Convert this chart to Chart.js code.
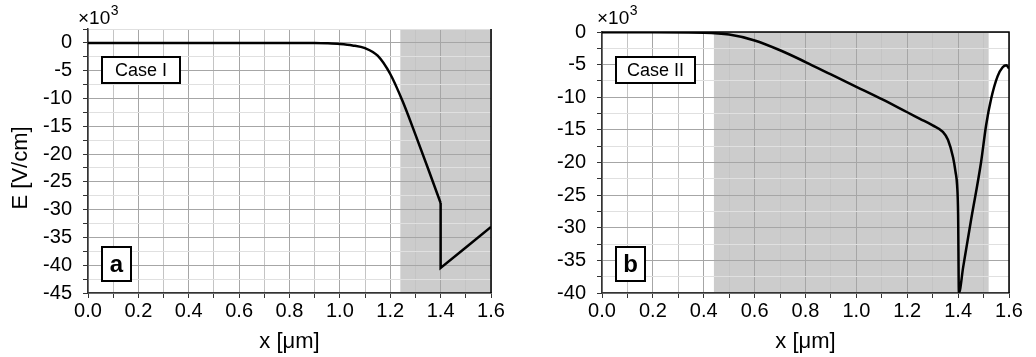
<!DOCTYPE html>
<html><head><meta charset="utf-8">
<script src="https://cdn.jsdelivr.net/npm/chart.js@4/dist/chart.umd.min.js"></script>
<style>html,body{margin:0;padding:0;background:#fff;}#wrap{position:relative;width:1036px;height:357px;overflow:hidden}canvas{position:absolute;top:0}</style>
</head><body><div id="wrap"><canvas id="ca" width="518" height="357" style="left:0"></canvas><canvas id="cb" width="518" height="357" style="left:518px"></canvas></div>
<script>
// ---- data (E in units of 10^3 V/cm, x in µm) ----
const xTickValues = [0,0.1,0.2,0.3,0.4,0.5,0.6,0.7,0.8,0.9,1.0,1.1,1.2,1.3,1.4,1.5,1.6];
const xLabels = ['0.0','0.2','0.4','0.6','0.8','1.0','1.2','1.4','1.6'];
const yTicksA = [-45,-42.5,-40,-37.5,-35,-32.5,-30,-27.5,-25,-22.5,-20,-17.5,-15,-12.5,-10,-7.5,-5,-2.5,0,2.5];
const yTicksB = [-40,-37.5,-35,-32.5,-30,-27.5,-25,-22.5,-20,-17.5,-15,-12.5,-10,-7.5,-5,-2.5,0];
const yLabelsA = ['-45','-40','-35','-30','-25','-20','-15','-10','-5','0'];
const yLabelsB = ['-40','-35','-30','-25','-20','-15','-10','-5','0'];

// Case I: smooth part up to the interface, then the jump and linear rise
const caseIx = [0,0.2,0.4,0.6,0.8,0.9,0.95,1.0,1.05,1.1,1.15,1.2,1.25,1.3,1.35,1.4];
const caseIy = [0,0,0,0,0,-0.02,-0.08,-0.2,-0.45,-0.95,-2.3,-5.6,-10.6,-16.5,-22.6,-28.8];
const caseIjumpX = [1.4,1.4,1.5,1.6];
const caseIjumpY = [-28.8,-40.5,-36.8,-33.1];

const caseIIx = [0,0.2,0.4,0.5,0.6,0.7,0.8,0.9,1.0,1.1,1.2,1.25,1.3,1.34,1.36,1.38,1.39,1.396,1.4,1.403,1.42,1.45,1.49,1.51,1.53,1.555,1.575,1.59,1.6];
const caseIIy = [-0.05,-0.05,-0.12,-0.4,-1.3,-2.8,-4.6,-6.5,-8.4,-10.3,-12.3,-13.3,-14.3,-15.3,-16.5,-19.2,-21.5,-23.5,-28,-40,-36,-29,-20,-14.3,-10.2,-6.8,-5.4,-5.1,-5.6];

const shadeI = [1.24, 1.6];
const shadeII = [0.44, 1.52];
// ----------------------------------------------

const FONT = '"Liberation Sans", Arial, sans-serif';

function isMajorX(v){ return Math.abs(Math.round(v*10)) % 2 === 0; }
function isMajorY(v){ return Math.abs(v % 5) < 1e-9; }
function toPts(xs, ys){ return xs.map((x,i)=>({x:x, y:ys[i]})); }

function makeChart(id, datasets, opt){
  const shadePlugin = {
    id:'shade'+id,
    beforeDraw(chart){
      const {ctx, chartArea:a, scales:{x}} = chart;
      const x0 = x.getPixelForValue(opt.shade[0]), x1 = x.getPixelForValue(opt.shade[1]);
      ctx.save();
      ctx.fillStyle = '#cccccc';
      ctx.fillRect(x0, a.top, x1-x0, a.bottom-a.top);
      ctx.restore();
    },
    afterDraw(chart){
      const {ctx, chartArea:a} = chart;
      ctx.save();
      ctx.strokeStyle = '#000'; ctx.lineWidth = 1.5;
      ctx.beginPath();
      ctx.moveTo(a.right, a.bottom); ctx.lineTo(a.right, a.top);
      if (opt.topBorder) ctx.lineTo(a.left, a.top);
      ctx.stroke();
      // exponent
      ctx.fillStyle = '#000';
      ctx.textBaseline = 'alphabetic'; ctx.textAlign = 'left';
      ctx.font = '19px ' + FONT;
      const ex = a.left + opt.expDX, ey = 24;
      ctx.fillText('\u00d710', ex, ey);
      const w = ctx.measureText('\u00d710').width;
      ctx.font = '14px ' + FONT;
      ctx.fillText('3', ex + w + 0.5, ey - 9);
      // case box
      const bx = a.left + 14;
      ctx.lineWidth = 2;
      ctx.fillStyle = '#fff';
      ctx.fillRect(bx, 57, opt.caseW, 26);
      ctx.strokeRect(bx, 57, opt.caseW, 26);
      ctx.fillStyle = '#000';
      ctx.font = '18px ' + FONT; ctx.textAlign = 'center'; ctx.textBaseline = 'middle';
      ctx.fillText(opt.caseText, bx + opt.caseW/2, 71);
      // letter box
      ctx.fillStyle = '#fff';
      ctx.fillRect(bx, 247, 29, 34);
      ctx.strokeRect(bx, 247, 29, 34);
      ctx.fillStyle = '#000';
      ctx.font = 'bold 24px ' + FONT;
      ctx.fillText(opt.letter, bx + 14.5, 265);
      // y title
      if (opt.yTitle){
        const y = chart.scales.y;
        const cy = (y.getPixelForValue(0) + y.getPixelForValue(-45)) / 2;
        ctx.translate(21, cy);
        ctx.rotate(-Math.PI/2);
        ctx.font = '22px ' + FONT;
        ctx.fillText(opt.yTitle, 0, 0);
      }
      ctx.restore();
    }
  };
  return new Chart(document.getElementById(id), {
    type:'line',
    data:{datasets: datasets.map(d => ({data:d.data, borderColor:'#000', borderWidth:2.5, pointRadius:0, fill:false,
      cubicInterpolationMode: d.smooth ? 'monotone' : 'default', tension:0, borderJoinStyle:'miter'}))},
    options:{
      responsive:false, animation:false, devicePixelRatio:1,
      layout:{padding:{left:0, right:opt.padR, top:opt.padT, bottom:0}},
      plugins:{legend:{display:false}, tooltip:{enabled:false}},
      scales:{
        x:{type:'linear', min:0, max:1.6,
          afterBuildTicks(s){ s.ticks = xTickValues.map(v=>({value:v})); },
          afterFit(s){ s.height = 64; },
          ticks:{autoSkip:false, maxRotation:0, padding:1, color:'#000', font:{family:FONT, size:20},
            callback(v){ return isMajorX(v) ? xLabels[Math.round(v*5)] : ''; }},
          grid:{color:(c)=> (c.tick && isMajorX(c.tick.value)) ? '#a6a6a6' : '#c4c4c4', lineWidth:1, tickLength:5, tickColor:'#333'},
          border:{color:'#333', width:1.5},
          title:{display:true, text:'x [\u03bcm]', color:'#000', font:{family:FONT, size:22}, padding:{top:0, bottom:2}}
        },
        y:{type:'linear', min:opt.ymin, max:opt.ymax,
          afterBuildTicks(s){ s.ticks = opt.yTicks.map(v=>({value:v})); },
          afterFit(s){ s.width = opt.yW; },
          ticks:{autoSkip:false, padding:11, color:'#000', font:{family:FONT, size:20},
            callback(v){ return (isMajorY(v) && v <= 0) ? opt.yLabels[Math.round((v - opt.yTicks[0])/5)] : ''; }},
          grid:{color:(c)=> (c.tick && isMajorY(c.tick.value)) ? '#a6a6a6' : '#e0e0e0', lineWidth:1, tickLength:5, tickColor:'#333'},
          border:{color:'#333', width:1.5}
        }
      }
    },
    plugins:[shadePlugin]
  });
}

makeChart('ca', [{data:toPts(caseIx, caseIy), smooth:true}, {data:toPts(caseIjumpX, caseIjumpY), smooth:false}],
  {shade:shadeI, ymin:-45, ymax:2.5, yTicks:yTicksA, yLabels:yLabelsA, padR:27, padT:29, yW:88, expDX:-10, caseText:'Case I', caseW:78, letter:'a', yTitle:'E [V/cm]', topBorder:false});
makeChart('cb', [{data:toPts(caseIIx, caseIIy), smooth:true}],
  {shade:shadeII, ymin:-40, ymax:0, yTicks:yTicksB, yLabels:yLabelsB, padR:27, padT:32, yW:84, expDX:-5, caseText:'Case II', caseW:79, letter:'b', yTitle:null, topBorder:true});
</script>
</body></html>
